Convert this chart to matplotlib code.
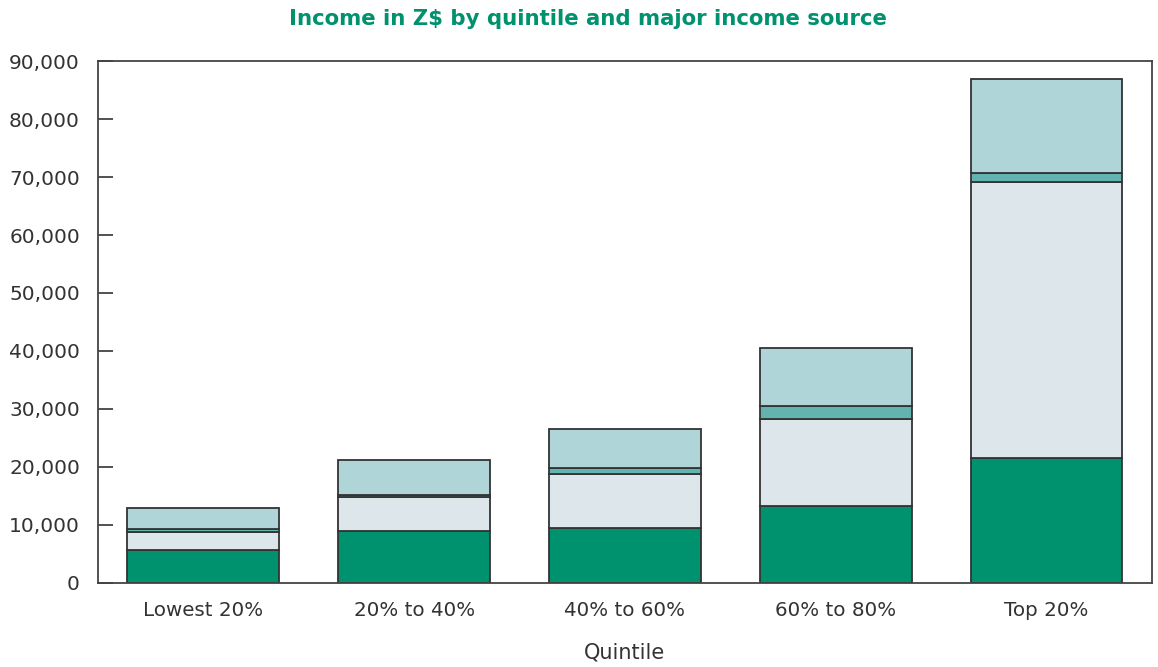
import matplotlib
matplotlib.use("Agg")
import matplotlib.pyplot as plt
from matplotlib.ticker import FuncFormatter

quintiles = ["Lowest 20%", "20% to 40%", "40% to 60%", "60% to 80%", "Top 20%"]
source_a = [5600, 9000, 9400, 13200, 21500]     # bottom, dark green
source_b = [3250, 5850, 9450, 15150, 47650]     # light grey-blue
source_c = [400, 400, 900, 2200, 1550]          # teal
source_d = [3750, 5900, 6800, 9900, 16250]      # light teal (top)
y_ticks = [0, 10000, 20000, 30000, 40000, 50000, 60000, 70000, 80000, 90000]

series = [source_a, source_b, source_c, source_d]
colors = ["#00916E", "#DCE6EB", "#63B3B0", "#B0D5D8"]

plt.rcParams['font.family'] = ['DejaVu Sans']
fig = plt.figure(figsize=(11.58, 6.67), dpi=100)
ax = fig.add_axes([0.0846, 0.126, 0.9102, 0.7825])

x = list(range(len(quintiles)))
bottom = [0] * len(quintiles)
for vals, c in zip(series, colors):
    ax.bar(x, vals, width=0.72, bottom=bottom, color=c, edgecolor="#333333", linewidth=1.3, zorder=2)
    bottom = [b + v for b, v in zip(bottom, vals)]

ax.set_xlim(-0.5, 4.5)
ax.set_ylim(0, 90000)
ax.set_yticks(y_ticks)
ax.yaxis.set_major_formatter(FuncFormatter(lambda v, p: f"{int(v):,}"))
ax.set_xticks(x)
ax.set_xticklabels(quintiles)
ax.tick_params(axis="y", direction="in", length=11, width=1.2, color="#333333",
               labelsize=14.5, labelcolor="#333333", pad=13)
ax.tick_params(axis="x", length=0, labelsize=14.3, labelcolor="#333333", pad=13)
for s in ax.spines.values():
    s.set_color("#444444")
    s.set_linewidth(1.3)

ax.set_xlabel("Quintile", fontsize=15, color="#333333", labelpad=16)
fig.text(0.508, 0.972, "Income in Z$ by quintile and major income source", ha="center", va="center",
         fontsize=15.3, fontweight="bold", color="#00916E")

fig.savefig("out.png", dpi=100)
